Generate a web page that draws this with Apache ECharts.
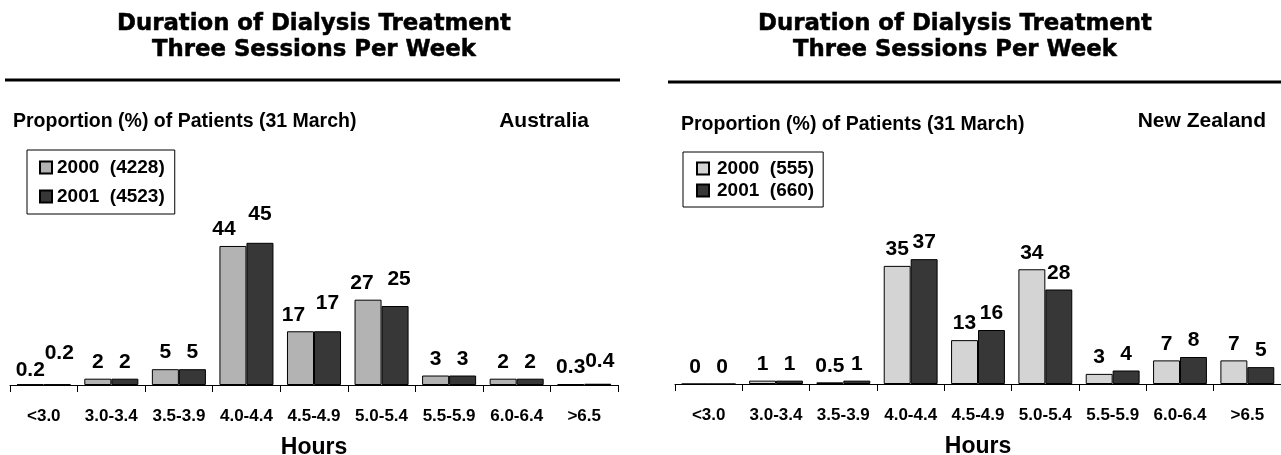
<!DOCTYPE html>
<html>
<head>
<meta charset="utf-8">
<script src="https://cdn.jsdelivr.net/npm/echarts@6/dist/echarts.min.js"></script>
<style>
  html, body { margin: 0; padding: 0; background: #fff; }
  #chart { width: 1281px; height: 455px; }
</style>
</head>
<body>
<div id="chart"></div>
<script>
// Hours of dialysis per session (three sessions per week)
const hourBands = ['<3.0', '3.0-3.4', '3.5-3.9', '4.0-4.4', '4.5-4.9', '5.0-5.4', '5.5-5.9', '6.0-6.4', '>6.5'];

// Australia, proportion (%) of patients at 31 March
const ausNames = ['2000  (4228)', '2001  (4523)'];
const aus2000 = [0.2, 2, 5, 44, 17, 27, 3, 2, 0.3];
const aus2001 = [0.2, 2, 5, 45, 17, 25, 3, 2, 0.4];

// New Zealand, proportion (%) of patients at 31 March
const nzNames = ['2000  (555)', '2001  (660)'];
const nz2000 = [0, 1, 0.5, 35, 13, 34, 3, 7, 7];
const nz2001 = [0, 1, 1, 37, 16, 28, 4, 8, 5];

const SANS = '"Liberation Sans", Arial, Helvetica, sans-serif';
const HEAVY = '"DejaVu Sans", "Liberation Sans", sans-serif';

// small label nudges so neighbouring value labels stay readable
const ausNudge2000 = { 0: [0, 3], 3: [-9, 0], 4: [-7, 0], 5: [-6, 0] };
const ausNudge2001 = { 0: [2, -14], 3: [0, -12], 4: [0, -12], 5: [4, -10], 8: [2, -6] };

function barSeries(name, values, color, axis, nudges) {
  return {
    type: 'bar',
    name: name,
    xAxisIndex: axis,
    yAxisIndex: axis,
    barGap: '0%',
    barCategoryGap: '20%',
    data: values.map(function (v, i) {
      return nudges && nudges[i] ? { value: v, label: { offset: nudges[i] } } : v;
    }),
    itemStyle: { color: color, borderColor: '#000', borderWidth: 1 },
    label: {
      show: true, position: 'top', distance: 6,
      color: '#000', fontFamily: SANS, fontWeight: 'bold', fontSize: 21
    },
    emphasis: { disabled: true },
    animation: false
  };
}

function xAxisFor(grid) {
  return {
    type: 'category', gridIndex: grid, data: hourBands,
    name: 'Hours', nameLocation: 'middle', nameGap: 51,
    nameTextStyle: { color: '#000', fontFamily: SANS, fontWeight: 'bold', fontSize: 23 },
    axisLine: { lineStyle: { color: '#000', width: 1 } },
    axisTick: { show: true, inside: false, length: 7, lineStyle: { color: '#000' } },
    axisLabel: { margin: 23, color: '#000', fontFamily: SANS, fontWeight: 'bold', fontSize: 17, interval: 0 },
    splitLine: { show: false }
  };
}

function headingText(x, y, text) {
  return {
    type: 'text', x: x, y: y, silent: true,
    style: {
      text: text, align: 'center', verticalAlign: 'middle',
      fontFamily: HEAVY, fontWeight: 'bold', fontSize: 22.8,
      fill: '#000', stroke: '#000', lineWidth: 0.5
    }
  };
}

function plainText(x, y, text, size, align) {
  return {
    type: 'text', x: x, y: y, silent: true,
    style: {
      text: text, align: align || 'left', verticalAlign: 'middle',
      fontFamily: SANS, fontWeight: 'bold', fontSize: size, fill: '#000'
    }
  };
}

function legendFor(names, left, top, gap, pad, textPad) {
  return {
    data: names, orient: 'vertical', left: left, top: top,
    itemWidth: 12, itemHeight: 12, itemGap: gap, padding: pad,
    borderColor: '#000', borderWidth: 1, selectedMode: false,
    icon: 'rect',
    textStyle: { color: '#000', fontFamily: SANS, fontWeight: 'bold', fontSize: 19, lineHeight: 19, padding: [0, 0, 0, textPad] }
  };
}

const chart = echarts.init(document.getElementById('chart'), null, { renderer: 'canvas' });

chart.setOption({
  backgroundColor: '#fff',
  animation: false,
  grid: [
    { left: 10, top: 227, width: 608, height: 158, outerBoundsMode: 'none', containLabel: false },
    { left: 675, top: 249, width: 606, height: 135, outerBoundsMode: 'none', containLabel: false }
  ],
  xAxis: [xAxisFor(0), xAxisFor(1)],
  yAxis: [
    { type: 'value', gridIndex: 0, min: 0, max: 50, show: false },
    { type: 'value', gridIndex: 1, min: 0, max: 40, show: false }
  ],
  legend: [
    legendFor(ausNames, 27, 150, 10, [8, 10, 8, 12], 0),
    legendFor(nzNames, 683, 152, 3, [7, 9, 7, 13], 3)
  ],
  series: [
    barSeries(ausNames[0], aus2000, '#b3b3b3', 0, ausNudge2000),
    barSeries(ausNames[1], aus2001, '#373737', 0, ausNudge2001),
    barSeries(nzNames[0], nz2000, '#d4d4d4', 1, null),
    barSeries(nzNames[1], nz2001, '#373737', 1, null)
  ],
  graphic: [
    headingText(314, 24, 'Duration of Dialysis Treatment'),
    headingText(314, 50, 'Three Sessions Per Week'),
    { type: 'line', silent: true, shape: { x1: 5, y1: 80, x2: 620, y2: 80 }, style: { stroke: '#000', lineWidth: 3 } },
    plainText(13, 122, 'Proportion (%) of Patients (31 March)', 19.5),
    plainText(589, 121, 'Australia', 21, 'right'),

    headingText(955, 24, 'Duration of Dialysis Treatment'),
    headingText(955, 50, 'Three Sessions Per Week'),
    { type: 'line', silent: true, shape: { x1: 668, y1: 82, x2: 1281, y2: 82 }, style: { stroke: '#000', lineWidth: 3 } },
    plainText(681, 125, 'Proportion (%) of Patients (31 March)', 19.5),
    plainText(1266, 121, 'New Zealand', 21, 'right')
  ]
});
</script>
</body>
</html>
